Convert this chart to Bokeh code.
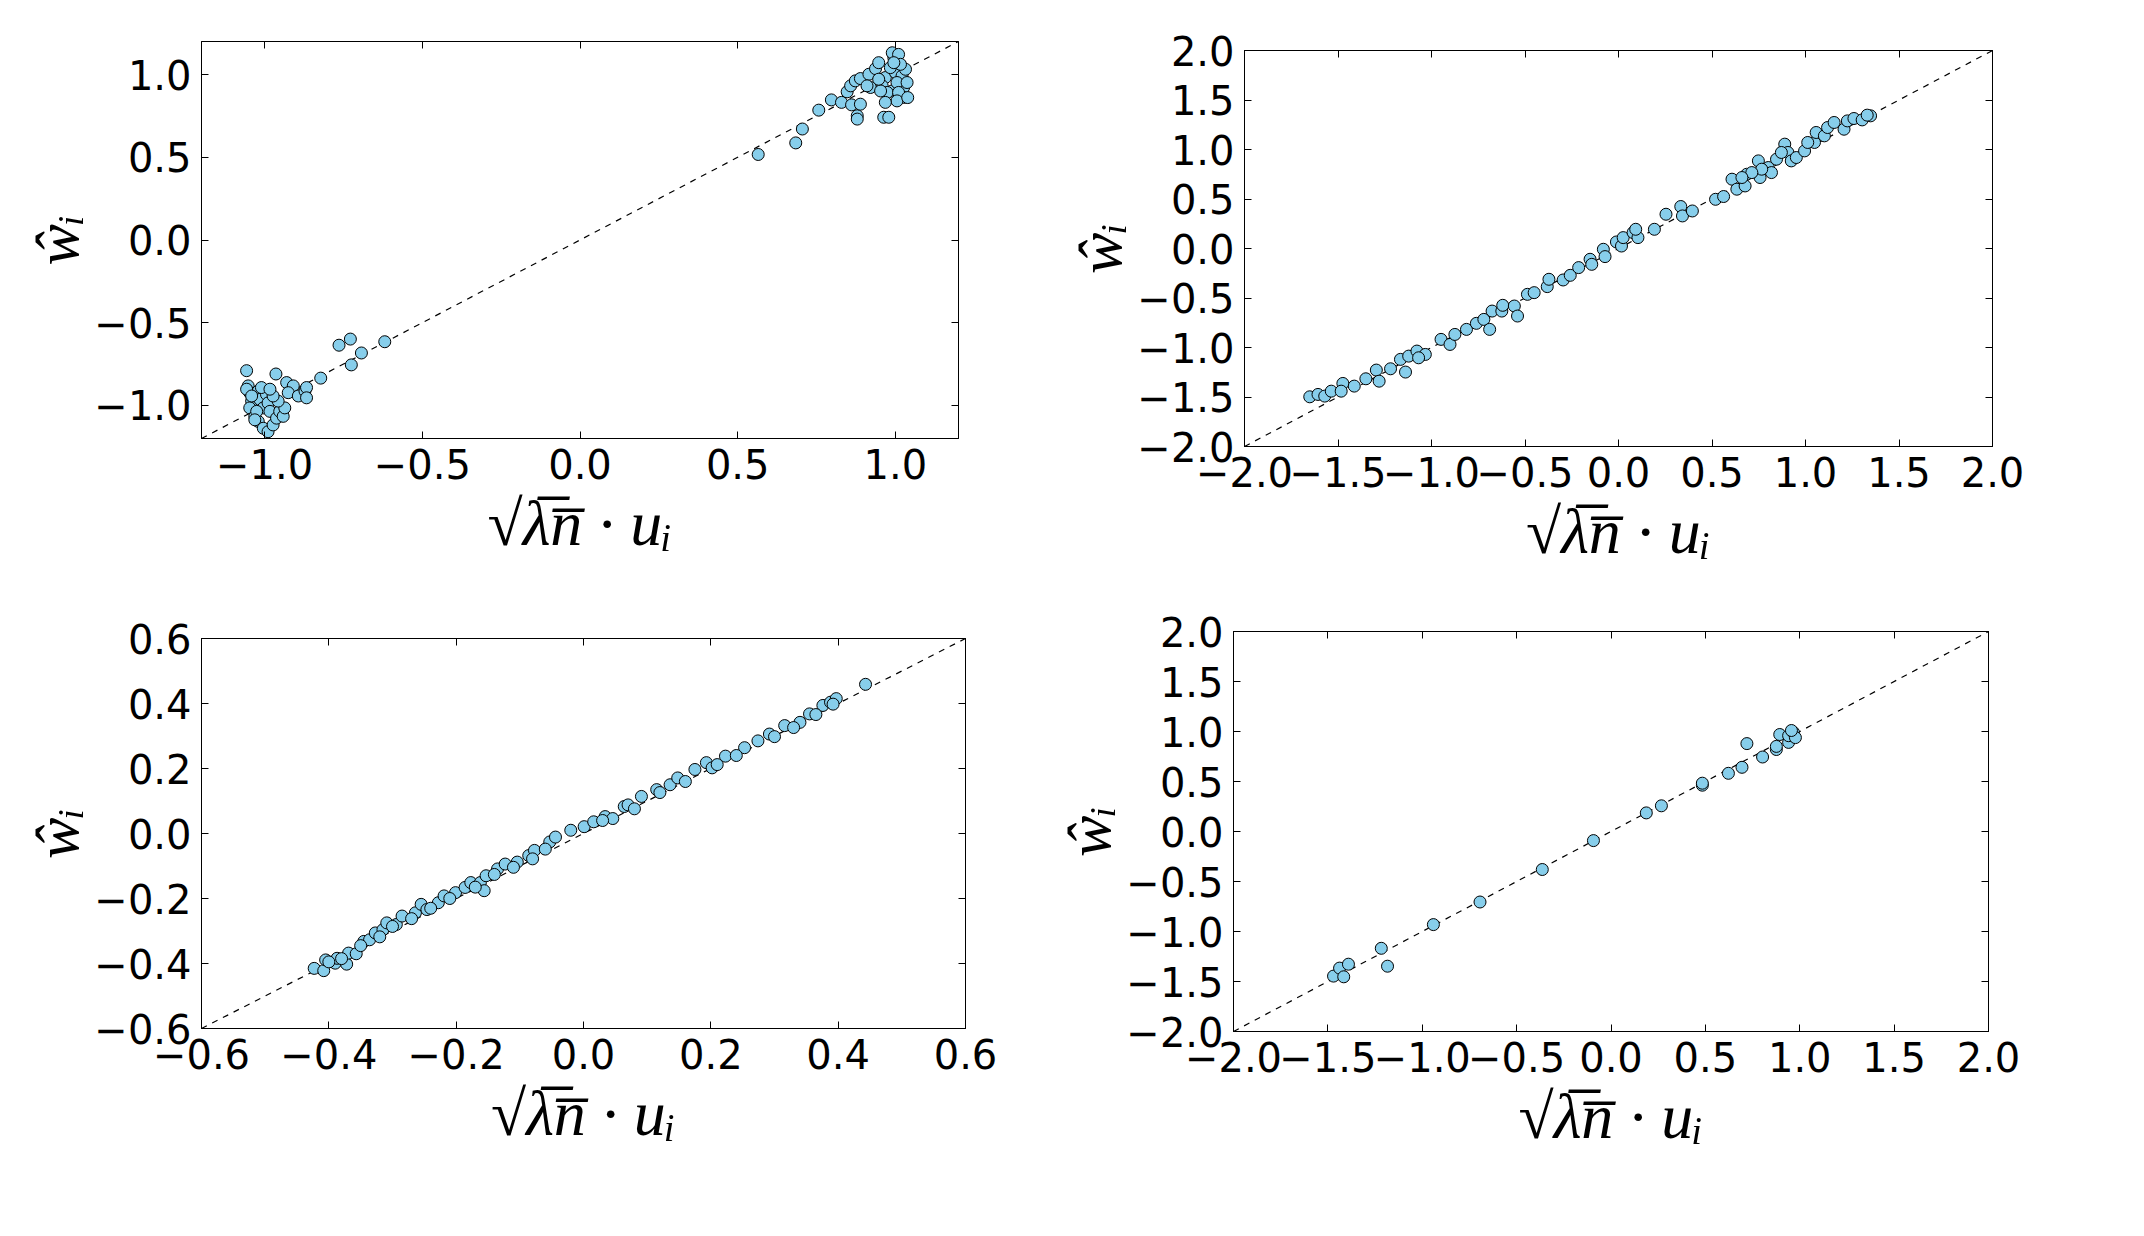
from bokeh.plotting import figure
from bokeh.layouts import column, row
from bokeh.models import LinearAxis, FixedTicker, Range1d
from bokeh.embed import file_html
from bokeh.resources import INLINE

# ---------------- data ----------------
P1_X = [0.565, 0.684, 0.705, 0.757, 0.797, 0.829, 0.847, 0.858, 0.861, 0.879, 0.879, 0.889,
        0.873, 0.889, 0.921, 0.916, 0.937, 0.947, 0.963, 0.979, 0.968, 0.995, 0.990, 1.010,
        1.000, 0.990, 1.021, 1.026, 1.026, 1.032, 0.958, 0.974, 1.005, 0.953, 1.010, 1.037,
        1.016, 0.984, 0.910, 0.947, 1.005, 0.968, 0.995, 1.039,
        -0.619, -0.728, -0.764, -0.693, -0.725, -0.822, -0.964, -1.057, -0.930, -0.909, -0.925,
        -0.893, -0.872, -0.867, -0.867,
        -1.052, -1.047, -1.041, -1.047, -1.020, -1.015, -1.004, -0.994, -0.989, -0.983, -1.031,
        -1.020, -1.004, -0.989, -0.973, -0.962, -0.952, -0.941, -0.936, -0.957, -0.973, -1.010,
        -0.983, -1.025, -1.031, -1.057, -1.041]
P1_Y = [0.517, 0.587, 0.671, 0.785, 0.847, 0.832, 0.896, 0.932, 0.817, 0.751, 0.731, 0.821,
        0.962, 0.976, 0.922, 1.002, 1.036, 1.072, 0.742, 0.742, 0.982, 1.102, 1.132, 1.122,
        1.012, 0.901, 0.992, 0.922, 0.862, 1.032, 0.932, 0.892, 0.952, 0.901, 0.892, 0.952,
        1.062, 1.042, 0.932, 0.972, 0.841, 0.832, 1.072, 0.861,
        -0.615, -0.599, -0.636, -0.683, -0.755, -0.835, -0.810, -0.790, -0.862, -0.882, -0.923,
        -0.943, -0.913, -0.892, -0.954,
        -0.882, -0.923, -0.974, -1.015, -0.913, -0.964, -1.015, -0.933, -0.985, -1.036, -1.066,
        -1.097, -1.138, -1.159, -1.118, -1.077, -1.036, -1.066, -1.015, -0.974, -0.943, -0.892,
        -0.902, -1.036, -1.087, -0.902, -0.943]

P2_X = [-1.651, -1.607, -1.571, -1.536, -1.474, -1.483, -1.413, -1.351, -1.295, -1.280, -1.219,
        -1.166, -1.139, -1.122, -1.078, -1.033, -1.069, -0.949, -0.901, -0.875, -0.813, -0.760,
        -0.720, -0.689, -0.676, -0.624, -0.619, -0.557, -0.540, -0.487, -0.451, -0.381, -0.372,
        -0.296, -0.258, -0.213, -0.152, -0.143, -0.081, -0.072, -0.011, 0.016,
        0.025, 0.078, 0.104, 0.092, 0.192, 0.254, 0.333, 0.342, 0.395, 0.519, 0.562, 0.607,
        0.633, 0.677, 0.686, 0.748, 0.757, 0.801, 0.818, 0.845, 0.889, 0.906, 0.924, 0.951,
        0.995, 1.048, 1.057, 1.101, 1.118, 1.153, 1.206, 1.224, 1.259, 1.303, 1.348, 1.330,
        1.012, 0.871, 0.766, 0.713, 0.660]
P2_Y = [-1.498, -1.474, -1.491, -1.441, -1.363, -1.441, -1.390, -1.316, -1.228, -1.340, -1.215,
        -1.120, -1.248, -1.087, -1.036, -1.070, -1.104, -0.918, -0.969, -0.868, -0.817, -0.756,
        -0.716, -0.817, -0.632, -0.632, -0.574, -0.581, -0.682, -0.463, -0.446, -0.385, -0.311,
        -0.318, -0.271, -0.193, -0.109, -0.160, -0.008, -0.082, 0.066, 0.025,
        0.110, 0.161, 0.110, 0.194, 0.194, 0.346, 0.424, 0.329, 0.379, 0.497, 0.525, 0.700,
        0.599, 0.632, 0.750, 0.885, 0.717, 0.818, 0.767, 0.902, 1.054, 0.970, 0.885, 0.919,
        0.986, 1.071, 1.172, 1.138, 1.222, 1.273, 1.205, 1.289, 1.313, 1.299, 1.340, 1.347,
        1.071, 0.970, 0.801, 0.767, 0.717]

P3_X = [-0.423, -0.408, -0.405, -0.390, -0.387, -0.372, -0.369, -0.357, -0.345, -0.336, -0.327,
        -0.315, -0.309, -0.294, -0.285, -0.264, -0.255, -0.246, -0.228, -0.219, -0.201, -0.186,
        -0.177, -0.162, -0.156, -0.153, -0.135, -0.123, -0.104, -0.086, -0.077, -0.080, -0.053,
        -0.044, -0.020, 0.001, 0.016, 0.034, 0.046, 0.064, 0.070, 0.091, 0.115, 0.136, 0.148,
        0.175, 0.193, 0.202, 0.223, 0.253, 0.274, 0.292, 0.316, 0.340, 0.355, 0.376, 0.388,
        0.397, 0.443,
        -0.400, -0.380, -0.350, -0.320, -0.300, -0.270, -0.240, -0.210, -0.170, -0.140, -0.110,
        -0.060, 0.030, 0.080, 0.120, 0.160, 0.210, 0.240, 0.300, 0.330, 0.365, 0.392]
P3_Y = [-0.415, -0.422, -0.389, -0.399, -0.384, -0.402, -0.368, -0.370, -0.332, -0.327, -0.306,
        -0.296, -0.275, -0.280, -0.254, -0.244, -0.218, -0.234, -0.213, -0.192, -0.182, -0.166,
        -0.151, -0.151, -0.176, -0.130, -0.109, -0.094, -0.088, -0.068, -0.052, -0.078, -0.026,
        -0.011, 0.010, 0.021, 0.036, 0.052, 0.046, 0.083, 0.088, 0.114, 0.135, 0.150, 0.171,
        0.197, 0.218, 0.202, 0.238, 0.264, 0.285, 0.306, 0.332, 0.342, 0.368, 0.394, 0.404,
        0.415, 0.459,
        -0.395, -0.385, -0.345, -0.318, -0.286, -0.262, -0.230, -0.200, -0.165, -0.126, -0.104,
        -0.048, 0.040, 0.076, 0.126, 0.160, 0.212, 0.240, 0.298, 0.326, 0.366, 0.398]

P4_X = [-1.470, -1.438, -1.416, -1.391, -1.217, -1.184, -0.941, -0.694, -0.364, -0.093, 0.187,
        0.267, 0.484, 0.484, 0.622, 0.694, 0.720, 0.803, 0.876, 0.876, 0.894, 0.941, 0.941,
        0.967, 0.977, 0.956]
P4_Y = [-1.446, -1.366, -1.453, -1.327, -1.168, -1.347, -0.931, -0.705, -0.380, -0.091, 0.186,
        0.257, 0.463, 0.483, 0.582, 0.642, 0.879, 0.745, 0.820, 0.851, 0.970, 0.891, 0.958,
        0.990, 0.939, 1.010]

P1_LIM = 1.2
P1_TICKS = [-1.0, -0.5, 0.0, 0.5, 1.0]
P1_LABELS = ["\u22121.0", "\u22120.5", "0.0", "0.5", "1.0"]

P2_LIM = 2.0
P2_TICKS = [-2.0, -1.5, -1.0, -0.5, 0.0, 0.5, 1.0, 1.5, 2.0]
P2_LABELS = ["\u22122.0", "\u22121.5", "\u22121.0", "\u22120.5", "0.0", "0.5", "1.0", "1.5", "2.0"]

P3_LIM = 0.6
P3_TICKS = [-0.6, -0.4, -0.2, 0.0, 0.2, 0.4, 0.6]
P3_LABELS = ["\u22120.6", "\u22120.4", "\u22120.2", "0.0", "0.2", "0.4", "0.6"]

X_LABEL = "\u221a\u03bb\u0305n\u0305 \u00b7 u\u1d62"
Y_LABEL = "\u0175\u1d62"

FILL = "#87ceeb"


def make_panel(xs, ys, lim, ticks, labels, w, h, bl, br, bt, bb):
    p = figure(width=w, height=h,
               x_range=Range1d(-lim, lim), y_range=Range1d(-lim, lim),
               output_backend="svg", toolbar_location=None,
               min_border_left=bl, min_border_right=br,
               min_border_top=bt, min_border_bottom=bb,
               x_axis_location=None, y_axis_location=None)
    p.grid.visible = False
    p.outline_line_color = "black"
    p.outline_line_width = 1
    p.background_fill_color = "white"
    p.border_fill_color = "white"

    overrides = {t: l for t, l in zip(ticks, labels)}
    for loc in ("below", "left", "above", "right"):
        show = loc in ("below", "left")
        ax = LinearAxis(ticker=FixedTicker(ticks=ticks))
        ax.major_tick_in = 7
        ax.major_tick_out = 0
        ax.minor_tick_line_color = None
        ax.axis_line_color = "black"
        ax.major_tick_line_color = "black"
        if show:
            ax.major_label_overrides = overrides
            ax.major_label_text_font = "DejaVu Sans"
            ax.major_label_text_font_size = "40px"
            ax.major_label_text_color = "black"
            ax.major_label_standoff = 10
            ax.axis_label = X_LABEL if loc == "below" else Y_LABEL
            ax.axis_label_text_font = "Liberation Serif"
            ax.axis_label_text_font_style = "italic"
            ax.axis_label_text_font_size = "64px" if loc == "below" else "62px"
            ax.axis_label_text_color = "black"
            ax.axis_label_standoff = 6 if loc == "below" else 0
        else:
            ax.major_label_text_color = None
            ax.major_label_text_font_size = "10px"
            ax.major_label_standoff = 0
        p.add_layout(ax, loc)

    p.line(x=[-lim, lim], y=[-lim, lim], line_color="black", line_width=1.2,
           line_dash="6 6")
    p.scatter(x=xs, y=ys, size=12, marker="circle", fill_color=FILL,
              line_color="black", line_width=1)
    return p


p1 = make_panel(P1_X, P1_Y, P1_LIM, P1_TICKS, P1_LABELS, 1060, 600, 201, 102, 41, 162)
p2 = make_panel(P2_X, P2_Y, P2_LIM, P2_TICKS, P2_LABELS, 1060, 600, 184, 128, 50, 154)
p3 = make_panel(P3_X, P3_Y, P3_LIM, P3_TICKS, P3_LABELS, 1052, 620, 201, 87, 38, 192)
p4 = make_panel(P4_X, P4_Y, P2_LIM, P2_TICKS, P2_LABELS, 1068, 620, 178, 132, 31, 189)

layout = column(row(column(p1), column(p2)), row(column(p3), column(p4)))

open("out.html", "w").write(file_html(layout, INLINE))
